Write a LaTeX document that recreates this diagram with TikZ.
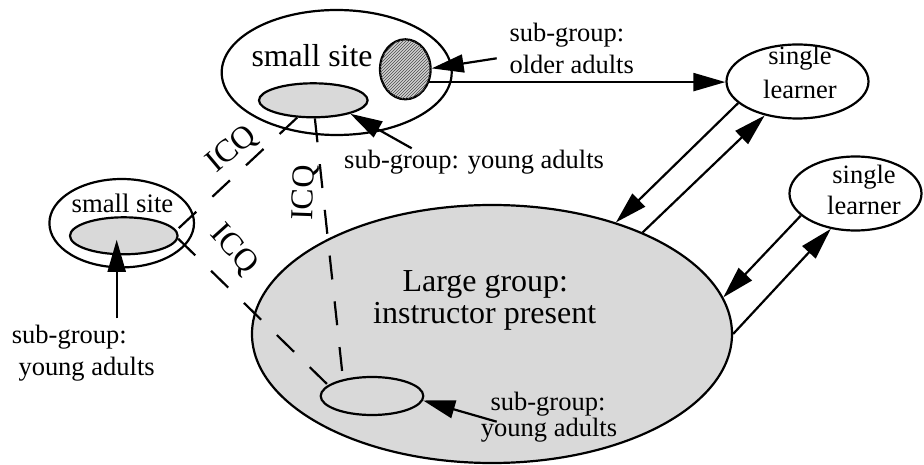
\documentclass[tikz,border=0pt]{standalone}
\usepackage{fontspec}
\setmainfont{Liberation Serif}
\usetikzlibrary{arrows.meta,shapes.geometric,patterns}
\newcommand\mysmall{\fontsize{26.5pt}{30pt}\selectfont}
\newcommand\mybig{\fontsize{32pt}{34pt}\selectfont}
\begin{document}
\begin{tikzpicture}[x=1pt,y=-1pt,
  ell/.style={ellipse, draw, line width=2.2pt, inner sep=0pt, outer sep=1.1pt},
  lightfill/.style={fill=black!15},
  hatchfill/.style={fill=black!18, postaction={pattern=north east lines, pattern color=black!70}},
  txt/.style={inner sep=0pt, font=\mysmall},
  bigtxt/.style={inner sep=0pt, font=\mybig},
  arr/.style={line width=2.2pt, -{Triangle[length=32pt,width=18pt]}},
  icq/.style={line width=2.2pt, dash pattern=on 24pt off 22pt}]
\useasboundingbox (0,0) rectangle (924,465);

% large group
\node[ell, lightfill, minimum width=480pt, minimum height=258pt] (large) at (492,334) {};
\node[ell, lightfill, minimum width=102.6pt, minimum height=38pt] (lgyoung) at (372,396) {};
\node[bigtxt, anchor=base] (lgt1) at (485.3,291.7) {Large group:};
\node[bigtxt, anchor=base] (lgt2) at (484.7,323.3) {instructor present};

% top small site
\node[ell, minimum width=230pt, minimum height=125pt] (topsite) at (336.7,72.5) {};
\node[ell, hatchfill, minimum width=50.6pt, minimum height=60pt] (older) at (405.3,69.3) {};
\node[ell, lightfill, minimum width=108.6pt, minimum height=34pt] (topyoung) at (313.3,100.3) {};
\node[inner sep=0pt, font=\fontsize{31.8pt}{34pt}\selectfont, anchor=base] (topsitet) at (312,66.7) {small site};

% left small site
\node[ell, minimum width=144.6pt, minimum height=88.4pt] (leftsite) at (121.7,223.2) {};
\node[ell, lightfill, minimum width=107.6pt, minimum height=37pt] (leftin) at (123.8,235.8) {};
\node[inner sep=0pt, font=\fontsize{26.7pt}{30pt}\selectfont, anchor=base] (leftsitet) at (122.5,212.7) {small site};

% single learners
\node[ell, minimum width=142pt, minimum height=74pt] (learner1) at (797.5,81.5) {};
\node[txt, anchor=base] (l1a) at (800,65) {single};
\node[txt, anchor=base] (l1b) at (800,98.3) {learner};
\node[ell, minimum width=132pt, minimum height=74pt] (learner2) at (855.5,193.5) {};
\node[txt, anchor=base] (l2a) at (864,183.3) {single};
\node[txt, anchor=base] (l2b) at (864,215) {learner};

% labels
\node[txt, anchor=base west] (oldl1) at (509.3,41.7) {sub-group:};
\node[txt, anchor=base west] (oldl2) at (509.3,73.3) {older adults};
\node[txt, anchor=base west] (topyl) at (344,168.3) {sub-group: young adults};
\node[txt, anchor=base west] (leftl1) at (11.7,343.3) {sub-group:};
\node[txt, anchor=base west] (leftl2) at (18.3,375) {young adults};
\node[txt, anchor=base] (lgl1) at (548,410) {sub-group:};
\node[txt, anchor=base] (lgl2) at (549,436.7) {young adults};

% ICQ labels
\node[bigtxt, rotate=40] (icq1) at (232,150) {ICQ};
\node[bigtxt, rotate=88] (icq2) at (305,193) {ICQ};
\node[bigtxt, rotate=-48] (icq3) at (233.5,250) {ICQ};

% free ends of label arrows
\coordinate (oldtail) at (496.7,58.3);
\coordinate (topyltail) at (411.7,148.3);
\coordinate (leftyltail) at (116.7,318.3);
\coordinate (lgyltail) at (496.7,421.7);

% ICQ links
\draw[icq] (topyoung.227) -- (leftin.6);
\draw[icq] (topyoung.275) -- (lgyoung.150);
\draw[icq] (leftin.-3) -- (lgyoung.166);

% label arrows
\draw[arr] (oldtail) -- (older.2);
\draw[arr] (topyltail) -- (topyoung.-20);
\draw[arr] (leftyltail) -- ([yshift=-4pt]leftyltail |- leftin.center);
\draw[arr] (lgyltail) -- (lgyoung.-5);

% learner links
\draw[arr] (older.-28) -- (older.-28 -| learner1.west);
\draw[arr] (learner1.200) -- (large.42);
\draw[arr] (large.34) -- (learner1.226);
\draw[arr] (learner2.202) -- (large.9.5);
\draw[arr] (large.0.5) -- (learner2.235);
\end{tikzpicture}
\end{document}
